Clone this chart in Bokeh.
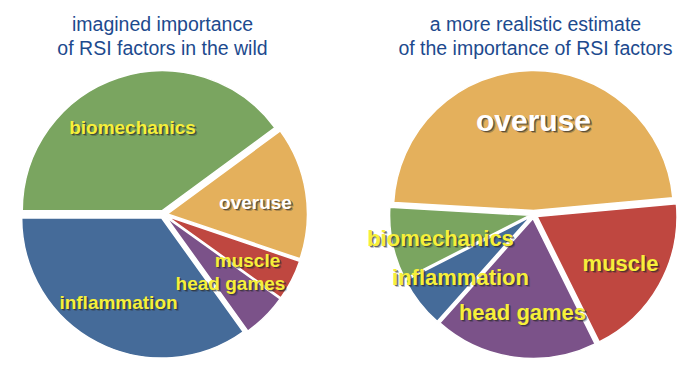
import math
from bokeh.plotting import figure
from bokeh.models import ColumnDataSource, Range1d
from bokeh.core.properties import value
from bokeh.embed import file_html
from bokeh.resources import INLINE

# ---- data ----
categories = ["biomechanics", "overuse", "muscle", "head games", "inflammation"]
imagined = [39.9, 15.3, 4.7, 5.2, 34.9]
realistic = [8.4, 47.6, 19.1, 18.9, 5.9]
colors = ["#7aa560", "#e4b05c", "#bf4740", "#7b5289", "#456b99"]
label_colors = ["#f6f03a", "#ffffff", "#f6f03a", "#f6f03a", "#f6f03a"]

left_title = ["imagined importance", "of RSI factors in the wild"]
right_title = ["a more realistic estimate", "of the importance of RSI factors"]

# ---- layout (pixels) ----
W, H = 692, 366
R = 140
EXPLODE = 4
left_center = (163, 152)
right_center = (533, 152)
left_start_deg = 180.0
right_start_deg = 207.0
# label offsets from pie centre (dx, dy), sizes
left_label_off = [(-31, 87), (92, 12), (84, -46), (67, -69), (-45, -88)]
right_label_off = [(-93, -24), (0, 94), (87, -49), (-11, -98), (-73, -63)]
left_label_size = ["19px"] * 5
right_label_size = ["22px", "30px", "22px", "22px", "22px"]

p = figure(width=W, height=H, output_backend="svg", toolbar_location=None,
           x_range=Range1d(0, W), y_range=Range1d(0, H), min_border=0)
p.axis.visible = False
p.grid.visible = False
p.outline_line_color = None
p.background_fill_color = "white"


def pie(vals, center, start_deg, offs, sizes):
    total = sum(vals)
    a_hi = math.radians(start_deg)
    xs, ys, sa, ea = [], [], [], []
    for v in vals:
        th = v / total * 2 * math.pi
        a_lo = a_hi - th
        mid = (a_lo + a_hi) / 2
        xs.append(center[0] + EXPLODE * math.cos(mid))
        ys.append(center[1] + EXPLODE * math.sin(mid))
        sa.append(a_lo)
        ea.append(a_hi)
        a_hi = a_lo
    src = ColumnDataSource(dict(x=xs, y=ys, start=sa, end=ea, color=colors))
    p.wedge(x="x", y="y", radius=R, start_angle="start", end_angle="end",
            fill_color="color", line_color="white", line_width=1.5, source=src)
    lx = [center[0] + o[0] for o in offs]
    ly = [center[1] + o[1] for o in offs]
    for dx, dy, al in [(2.2, -2.2, 0.3), (1.3, -1.3, 0.6)]:
        sh = ColumnDataSource(dict(x=[x + dx for x in lx], y=[y + dy for y in ly],
                                   t=categories, s=sizes))
        p.text(x="x", y="y", text="t", text_font_size="s", source=sh,
               text_font=value("Liberation Sans"), text_font_style="bold",
               text_color="#2a2a2a", text_alpha=al,
               text_align="center", text_baseline="middle")
    ls = ColumnDataSource(dict(x=lx, y=ly, t=categories, s=sizes, c=label_colors))
    p.text(x="x", y="y", text="t", text_font_size="s", source=ls,
           text_font=value("Liberation Sans"), text_font_style="bold",
           text_color="c", text_align="center", text_baseline="middle")


def title(lines, cx):
    src = ColumnDataSource(dict(x=[cx, cx], y=[343, 319], t=lines))
    p.text(x="x", y="y", text="t", source=src, text_font=value("Liberation Sans"),
           text_font_size="19.5px", text_color="#1d4a8e",
           text_align="center", text_baseline="middle")


pie(imagined, left_center, left_start_deg, left_label_off, left_label_size)
pie(realistic, right_center, right_start_deg, right_label_off, right_label_size)
title(left_title, 162)
title(right_title, 535)

open("out.html", "w").write(file_html(p, INLINE))
